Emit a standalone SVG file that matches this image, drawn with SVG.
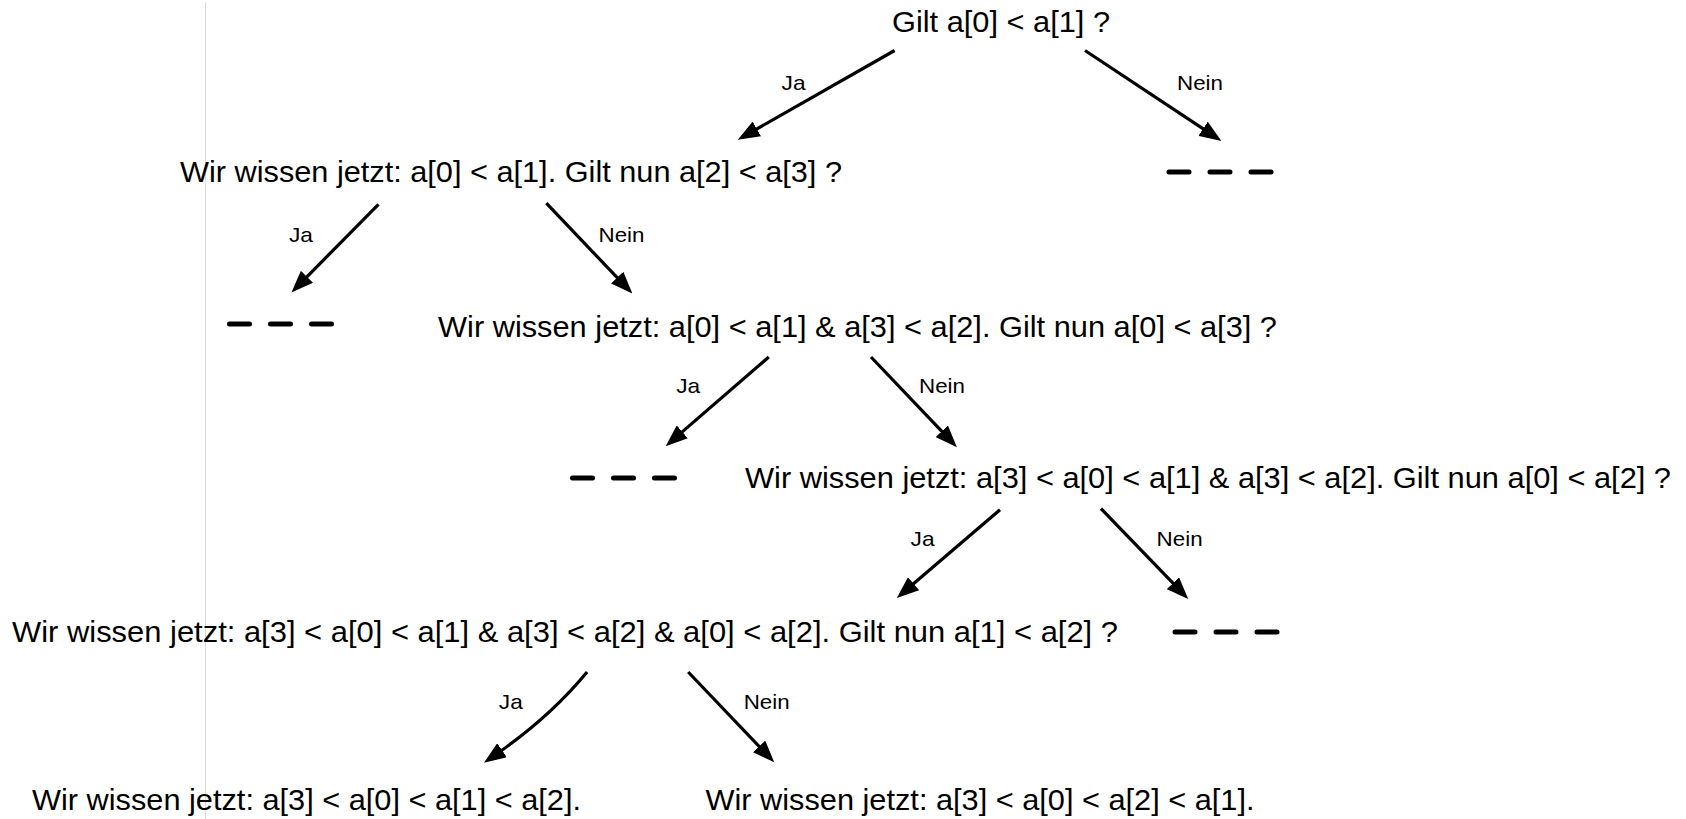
<svg xmlns="http://www.w3.org/2000/svg" width="1686" height="819" viewBox="0 0 1686 819">
  <style>
    .q { font-family: "Liberation Sans", Arial, Helvetica, sans-serif; font-size: 30px; fill: #000; }
    .lbl { font-family: "Liberation Sans", Arial, Helvetica, sans-serif; font-size: 21px; fill: #000; text-anchor: middle; }
    .edge { fill: none; stroke: #000; stroke-width: 3.2; marker-end: url(#head); }
    .open { fill: none; stroke: #000; stroke-width: 5; stroke-linecap: round; stroke-dasharray: 20 21; }
  </style>
  <defs>
    <marker id="head" viewBox="0 0 22 17" refX="7" refY="8.5" markerWidth="22" markerHeight="17" markerUnits="userSpaceOnUse" orient="auto">
      <path d="M0,0 L22,8.5 L0,17 z" fill="#000"/>
    </marker>
  </defs>
  <rect width="1686" height="819" fill="#fff"/>
  <!-- thin guide line at the left -->
  <line x1="205.5" y1="2" x2="205.5" y2="819" stroke="#dcdcdc" stroke-width="1"/>

  <!-- decision nodes -->
  <g id="n-root"><text class="q" x="892" y="32" textLength="218" lengthAdjust="spacingAndGlyphs">Gilt a[0] &lt; a[1] ?</text></g>
  <g id="n-q2"><text class="q" x="180" y="182" textLength="662" lengthAdjust="spacingAndGlyphs">Wir wissen jetzt: a[0] &lt; a[1]. Gilt nun a[2] &lt; a[3] ?</text></g>
  <g id="n-q3"><text class="q" x="438" y="337" textLength="839" lengthAdjust="spacingAndGlyphs">Wir wissen jetzt: a[0] &lt; a[1] &amp; a[3] &lt; a[2]. Gilt nun a[0] &lt; a[3] ?</text></g>
  <g id="n-q4"><text class="q" x="745" y="488" textLength="926" lengthAdjust="spacingAndGlyphs">Wir wissen jetzt: a[3] &lt; a[0] &lt; a[1] &amp; a[3] &lt; a[2]. Gilt nun a[0] &lt; a[2] ?</text></g>
  <g id="n-q5"><text class="q" x="12" y="642" textLength="1106" lengthAdjust="spacingAndGlyphs">Wir wissen jetzt: a[3] &lt; a[0] &lt; a[1] &amp; a[3] &lt; a[2] &amp; a[0] &lt; a[2]. Gilt nun a[1] &lt; a[2] ?</text></g>
  <g id="n-r1"><text class="q" x="32" y="810" textLength="549" lengthAdjust="spacingAndGlyphs">Wir wissen jetzt: a[3] &lt; a[0] &lt; a[1] &lt; a[2].</text></g>
  <g id="n-r2"><text class="q" x="705.5" y="810" textLength="549" lengthAdjust="spacingAndGlyphs">Wir wissen jetzt: a[3] &lt; a[0] &lt; a[2] &lt; a[1].</text></g>

  <!-- branches that are not followed -->
  <g id="n-x1"><line class="open" x1="1169" y1="172" x2="1271" y2="172"/></g>
  <g id="n-x2"><line class="open" x1="229.5" y1="324" x2="331.5" y2="324"/></g>
  <g id="n-x3"><line class="open" x1="572.5" y1="478" x2="674.5" y2="478"/></g>
  <g id="n-x4"><line class="open" x1="1175" y1="632" x2="1277" y2="632"/></g>

  <!-- connectors -->
  <g id="edges">
    <path class="edge" d="M894.6,50.5 L750.8,132.4"/>
    <path class="edge" d="M1085,50.5 L1208.9,132.6"/>
    <path class="edge" d="M378.5,204.3 L302,281.8"/>
    <path class="edge" d="M546.3,203.2 L622,282.7"/>
    <path class="edge" d="M768.8,357 L677,436.4"/>
    <path class="edge" d="M871,357 L946.6,436.4"/>
    <path class="edge" d="M1000,509.7 L908.2,588.2"/>
    <path class="edge" d="M1101,508.6 L1177.8,588.2"/>
    <path class="edge" d="M587.1,672 Q550,717 496.3,754.2"/>
    <path class="edge" d="M688.2,672 L763.9,751.5"/>
    <text class="lbl" x="793.6" y="90" textLength="24" lengthAdjust="spacingAndGlyphs">Ja</text>
    <text class="lbl" x="1200" y="90" textLength="46" lengthAdjust="spacingAndGlyphs">Nein</text>
    <text class="lbl" x="301" y="241.5" textLength="24" lengthAdjust="spacingAndGlyphs">Ja</text>
    <text class="lbl" x="621.5" y="241.5" textLength="46" lengthAdjust="spacingAndGlyphs">Nein</text>
    <text class="lbl" x="688.2" y="393" textLength="24" lengthAdjust="spacingAndGlyphs">Ja</text>
    <text class="lbl" x="942" y="393" textLength="46" lengthAdjust="spacingAndGlyphs">Nein</text>
    <text class="lbl" x="922.6" y="546" textLength="24" lengthAdjust="spacingAndGlyphs">Ja</text>
    <text class="lbl" x="1179.6" y="546" textLength="46" lengthAdjust="spacingAndGlyphs">Nein</text>
    <text class="lbl" x="510.8" y="709" textLength="24" lengthAdjust="spacingAndGlyphs">Ja</text>
    <text class="lbl" x="766.7" y="709" textLength="46" lengthAdjust="spacingAndGlyphs">Nein</text>
  </g>
</svg>
